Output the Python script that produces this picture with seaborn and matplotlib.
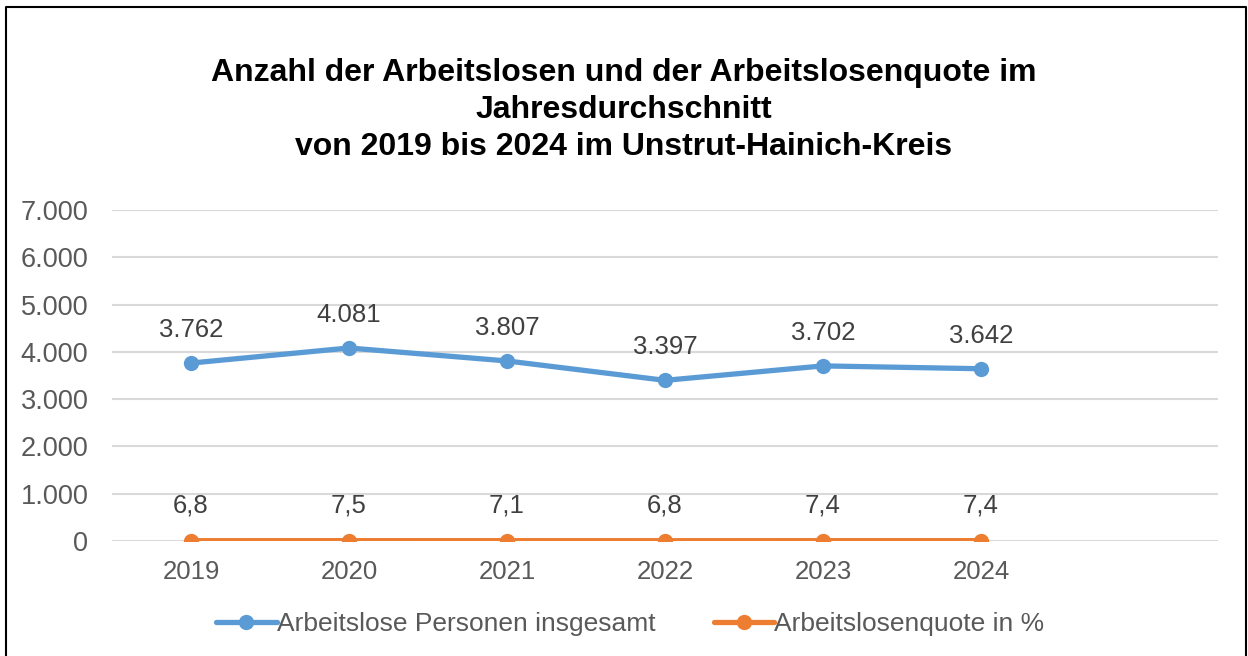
import numpy as np
import pandas as pd
import seaborn as sns
import matplotlib.pyplot as plt
from matplotlib.lines import Line2D
from matplotlib.ticker import FuncFormatter

years = [2019, 2020, 2021, 2022, 2023, 2024]
arbeitslose = [3762, 4081, 3807, 3397, 3702, 3642]
quote = [6.8, 7.5, 7.1, 6.8, 7.4, 7.4]
name_a = "Arbeitslose Personen insgesamt"
name_q = "Arbeitslosenquote in %"

blue = "#5B9BD5"
orange = "#ED7D31"
grey = "#595959"

sns.set_style("white")
plt.rcParams['font.family'] = ['Liberation Sans', 'DejaVu Sans']

df = pd.DataFrame({"Jahr": years, name_a: arbeitslose, name_q: quote})

fig = plt.figure(figsize=(12.48, 6.56), dpi=100)
ax = fig.add_axes([0.0897, 0.1753, 0.976 - 0.0897, 0.680 - 0.1753])

sns.lineplot(data=df, x="Jahr", y=name_a, ax=ax, color=blue, linewidth=3.8,
             marker="o", markersize=11, markeredgewidth=0, label=name_a)
sns.lineplot(data=df, x="Jahr", y=name_q, ax=ax, color=orange, linewidth=3.8,
             marker="o", markersize=11, markeredgewidth=0, label=name_q)

ax.set_xlim(2018.5, 2025.5)
ax.set_ylim(0, 7000)
ax.set_xticks(years)
ax.set_yticks(np.arange(0, 7001, 1000))
ax.yaxis.set_major_formatter(FuncFormatter(lambda v, p: f"{int(v):,}".replace(",", ".")))
ax.grid(axis="y", color="#D9D9D9", linewidth=1.5)
ax.set_axisbelow(True)
for s in ax.spines.values():
    s.set_visible(False)
ax.tick_params(axis="y", labelsize=19.5, labelcolor=grey, length=0, pad=17)
ax.tick_params(axis="x", labelsize=18.5, labelcolor=grey, length=0, pad=14)
ax.set_xlabel("")
ax.set_ylabel("")

for x, v in zip(years, arbeitslose):
    ax.annotate(f"{v:,}".replace(",", "."), (x, v), xytext=(0, 15), textcoords="offset points",
                ha="center", va="bottom", fontsize=18.5, color="#404040")
for x, v in zip(years, quote):
    ax.annotate(f"{v:.1f}".replace(".", ","), (x, v), xytext=(0, 17), textcoords="offset points",
                ha="center", va="bottom", fontsize=18.5, color="#404040")

ax.legend(loc="center", frameon=False, ncol=2, fontsize=19, labelcolor=grey,
          handlelength=2.3, handletextpad=0.0, columnspacing=2.2)
leg = ax.get_legend()
leg.set_bbox_to_anchor((0.505, 1 - 624 / 656), transform=fig.transFigure)

fig.text(0.5, 1 - 110 / 656, "Anzahl der Arbeitslosen und der Arbeitslosenquote im\nJahresdurchschnitt\nvon 2019 bis 2024 im Unstrut-Hainich-Kreis",
         ha="center", va="center", fontsize=23, fontweight="bold", color="black", linespacing=1.3)

# frame around the chart (bottom edge lies outside the image)
W, H = 1248, 656
fx = [6 / W, 6 / W, 1246 / W, 1246 / W]
fy = [0, 1 - 7 / H, 1 - 7 / H, 0]
fig.add_artist(Line2D(fx, fy, transform=fig.transFigure, color="black", linewidth=1.5))

fig.savefig("out.png", dpi=100)
